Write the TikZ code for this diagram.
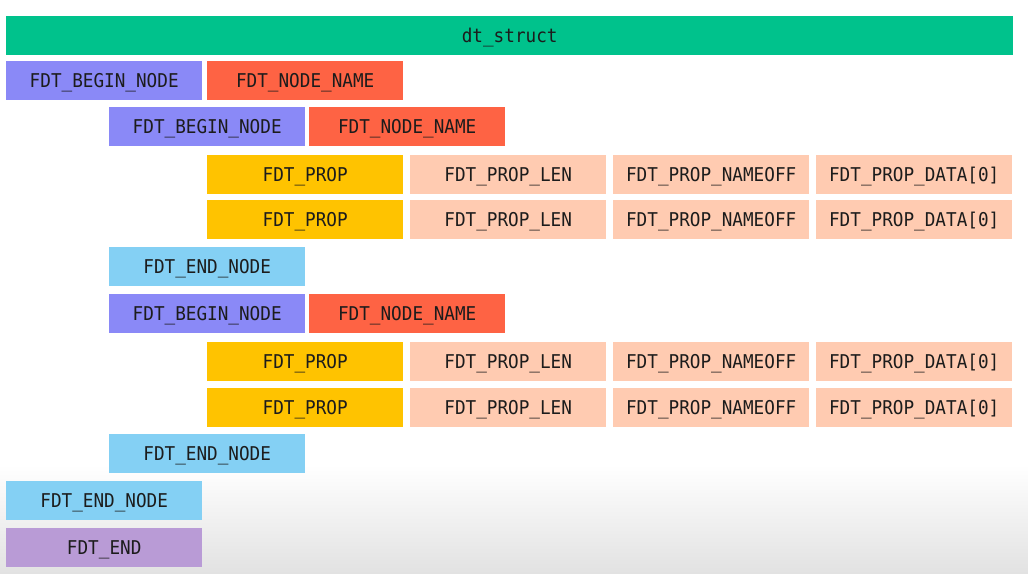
\documentclass[tikz,border=0pt]{standalone}
\usepackage{fontspec}
\newfontfamily\boxfont[FakeStretch=0.93]{DejaVu Sans Mono}
\definecolor{cgreen}{HTML}{00C28C}
\definecolor{cbegin}{HTML}{8A89F7}
\definecolor{cname}{HTML}{FE6344}
\definecolor{cprop}{HTML}{FFC300}
\definecolor{cpeach}{HTML}{FFCBB1}
\definecolor{cend}{HTML}{84D0F4}
\definecolor{cfend}{HTML}{B99BD6}
\definecolor{txt}{HTML}{1C1C1C}
\definecolor{bgbottom}{HTML}{E2E2E2}
\begin{document}
\begin{tikzpicture}[x=1pt,y=1pt,
  box/.style={anchor=north west, minimum width=196pt, minimum height=39pt, inner sep=0pt,
    text height=13.9pt, text depth=0pt,
    font=\boxfont\fontsize{19}{22}\selectfont, text=txt},
  beginbox/.style={box, fill=cbegin},
  namebox/.style={box, fill=cname},
  propbox/.style={box, fill=cprop},
  peachbox/.style={box, fill=cpeach},
  endbox/.style={box, fill=cend},
  fendbox/.style={box, fill=cfend}]
\useasboundingbox (0,0) rectangle (1028,-573);
\fill[white] (0,0) rectangle (1028,-465);
\shade[top color=white, bottom color=bgbottom] (0,-465) rectangle (1028,-573);
% top struct
\node[box, fill=cgreen, minimum width=1007pt] (dt) at (6,-16) {dt\_struct};
% level 1
\node[beginbox] (b1) at (6,-61) {FDT\_BEGIN\_NODE};
\node[namebox] (n1) at (207,-61) {FDT\_NODE\_NAME};
% level 2 first node
\node[beginbox] (b2) at (109,-107) {FDT\_BEGIN\_NODE};
\node[namebox] (n2) at (309,-107) {FDT\_NODE\_NAME};
\node[propbox] (p1) at (207,-155) {FDT\_PROP};
\node[peachbox] (l1) at (410,-155) {FDT\_PROP\_LEN};
\node[peachbox] (o1) at (613,-155) {FDT\_PROP\_NAMEOFF};
\node[peachbox] (d1) at (816,-155) {FDT\_PROP\_DATA[0]};
\node[propbox] (p2) at (207,-200) {FDT\_PROP};
\node[peachbox] (l2) at (410,-200) {FDT\_PROP\_LEN};
\node[peachbox] (o2) at (613,-200) {FDT\_PROP\_NAMEOFF};
\node[peachbox] (d2) at (816,-200) {FDT\_PROP\_DATA[0]};
\node[endbox] (e2) at (109,-247) {FDT\_END\_NODE};
% level 2 second node
\node[beginbox] (b3) at (109,-294) {FDT\_BEGIN\_NODE};
\node[namebox] (n3) at (309,-294) {FDT\_NODE\_NAME};
\node[propbox] (p3) at (207,-342) {FDT\_PROP};
\node[peachbox] (l3) at (410,-342) {FDT\_PROP\_LEN};
\node[peachbox] (o3) at (613,-342) {FDT\_PROP\_NAMEOFF};
\node[peachbox] (d3) at (816,-342) {FDT\_PROP\_DATA[0]};
\node[propbox] (p4) at (207,-388) {FDT\_PROP};
\node[peachbox] (l4) at (410,-388) {FDT\_PROP\_LEN};
\node[peachbox] (o4) at (613,-388) {FDT\_PROP\_NAMEOFF};
\node[peachbox] (d4) at (816,-388) {FDT\_PROP\_DATA[0]};
\node[endbox] (e3) at (109,-434) {FDT\_END\_NODE};
% closing
\node[endbox] (e1) at (6,-481) {FDT\_END\_NODE};
\node[fendbox] (fe) at (6,-528) {FDT\_END};
\end{tikzpicture}
\end{document}
